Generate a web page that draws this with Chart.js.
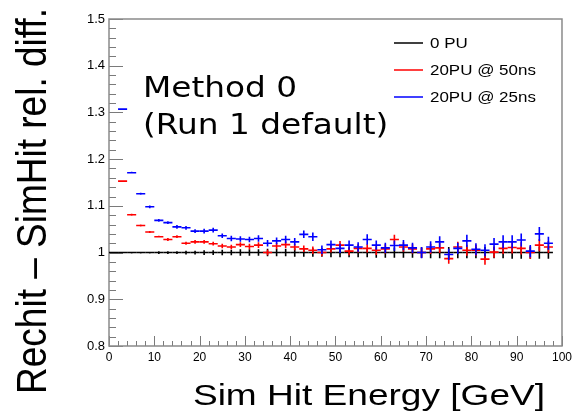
<!DOCTYPE html>
<html><head><meta charset="utf-8">
<script src="https://cdn.jsdelivr.net/npm/chart.js@4/dist/chart.umd.min.js"></script>
<style>html,body{margin:0;padding:0;background:#fff;}#wrap{width:576px;height:418px;}</style>
</head><body><div id="wrap"><canvas id="c" width="576" height="418"></canvas></div>
<script>
// ---------- data ----------
const binHalfWidth = 1;
const energies0 = [1,3,5,7,9,11,13,15,17,19,21,23,25,27,29,31,33,35,37,39,41,43,45,47,49,51,53,55,57,59,61,63,65,67,69,71,73,75,77,79,81,83,85,87,89,91,93,95,97];
const energiesPU = [3,5,7,9,11,13,15,17,19,21,23,25,27,29,31,33,35,37,39,41,43,45,47,49,51,53,55,57,59,61,63,65,67,69,71,73,75,77,79,81,83,85,87,89,91,93,95,97];
const values0PU = [1,1,1,1,1,1,1,1,1,1,1,1,1,1,1,1,1,1,1,1,1,1,1,1,1,1,1,1,1,1,1,1,1,1,1,1,1,1,1,1,1,1,1,1,1,1,1,1,1];
const errors0PU = [0.001,0.001,0.002,0.002,0.002,0.003,0.003,0.003,0.004,0.004,
  0.005,0.005,0.006,0.006,0.007,0.007,0.007,0.008,0.008,0.008,
  0.009,0.009,0.009,0.009,0.010,0.010,0.010,0.010,0.010,0.011,
  0.011,0.011,0.011,0.011,0.011,0.012,0.012,0.012,0.012,0.012,
  0.012,0.012,0.012,0.012,0.013,0.013,0.013,0.013,0.013];
const values50ns = [1.153,1.081,1.058,1.044,1.034,1.028,1.034,1.020,1.023,1.023,
  1.019,1.014,1.012,1.017,1.013,1.016,1.000,1.014,1.017,1.012,
  1.008,1.005,1.000,1.008,1.016,1.003,1.009,1.009,1.005,1.008,
  1.028,1.012,1.008,1.000,1.008,1.010,0.987,1.012,1.005,1.005,
  0.986,1.001,1.009,1.011,1.009,1.000,1.016,1.012];
const errors50ns = [0.001,0.002,0.002,0.002,0.002,0.003,0.003,0.003,0.004,0.004,
  0.004,0.005,0.005,0.005,0.006,0.006,0.006,0.007,0.007,0.007,
  0.007,0.008,0.008,0.008,0.009,0.009,0.009,0.009,0.010,0.010,
  0.010,0.010,0.010,0.011,0.011,0.011,0.011,0.011,0.012,0.012,
  0.012,0.012,0.012,0.013,0.013,0.013,0.013,0.013];
const values25ns = [1.307,1.171,1.126,1.098,1.069,1.064,1.055,1.053,1.046,1.046,
  1.048,1.036,1.030,1.029,1.028,1.030,1.020,1.025,1.028,1.023,
  1.039,1.034,1.006,1.017,1.009,1.016,1.012,1.028,1.016,1.010,
  1.015,1.016,1.010,1.000,1.012,1.023,0.996,1.009,1.025,1.007,
  1.005,1.018,1.023,1.023,1.027,1.003,1.040,1.020];
const errors25ns = [0.002,0.002,0.002,0.003,0.003,0.003,0.004,0.004,0.004,0.005,
  0.005,0.005,0.006,0.006,0.006,0.007,0.007,0.007,0.008,0.008,
  0.008,0.009,0.009,0.009,0.010,0.010,0.010,0.011,0.010,0.011,
  0.011,0.011,0.011,0.012,0.012,0.012,0.012,0.012,0.013,0.013,
  0.013,0.013,0.014,0.014,0.014,0.013,0.015,0.014];
const seriesLabels = ['0 PU','20PU @ 50ns','20PU @ 25ns'];
const xTicks = [0,10,20,30,40,50,60,70,80,90,100];
const yTicks = [0.8,0.9,1.0,1.1,1.2,1.3,1.4,1.5];
const xTitle = 'Sim Hit Energy [GeV]';
const yTitle = 'Rechit \u2013 SimHit rel. diff.';
const noteLines = ['Method 0','(Run 1 default)'];

// ---------- rendering ----------
const STRETCH = 1.17;
const toPts = (xs, ys) => xs.map((x, i) => ({x: x, y: ys[i]}));

const errorBars = {
  id: 'errorBars',
  afterDatasetsDraw(chart) {
    const {ctx, chartArea: a, scales: {x, y}} = chart;
    ctx.save();
    ctx.beginPath(); ctx.rect(a.left, a.top, a.right - a.left, a.bottom - a.top); ctx.clip();
    chart.data.datasets.forEach(ds => {
      ctx.strokeStyle = ds.borderColor; ctx.lineWidth = ds.borderWidth;
      ds.data.forEach((p, i) => {
        const px = x.getPixelForValue(p.x), py = y.getPixelForValue(p.y);
        const e = ds.errors[i];
        ctx.beginPath();
        ctx.moveTo(x.getPixelForValue(p.x - binHalfWidth), py);
        ctx.lineTo(x.getPixelForValue(p.x + binHalfWidth), py);
        ctx.moveTo(px, y.getPixelForValue(p.y + e));
        ctx.lineTo(px, y.getPixelForValue(p.y - e));
        ctx.stroke();
      });
    });
    ctx.restore();
  }
};

function stretchedText(ctx, txt, x, y, align, sx) {
  ctx.save();
  ctx.translate(x, y); ctx.scale(sx || STRETCH, 1);
  ctx.textAlign = align; ctx.fillText(txt, 0, 0);
  ctx.restore();
}

const decor = {
  id: 'decor',
  beforeDatasetsDraw(chart) {
    const {ctx, chartArea: a, scales: {x, y}} = chart;
    ctx.save();
    ctx.strokeStyle = '#7a7a7a'; ctx.lineWidth = 1;
    for (let v = 0.8; v <= 1.5001; v += 0.02) {
      const major = Math.abs(v * 10 - Math.round(v * 10)) < 1e-6;
      const py = Math.round(y.getPixelForValue(v)) + 0.5;
      ctx.beginPath(); ctx.moveTo(a.left, py); ctx.lineTo(a.left + (major ? 14 : 7), py); ctx.stroke();
    }
    for (let v = 0; v <= 100.001; v += 2) {
      const major = v % 10 === 0;
      const px = Math.round(x.getPixelForValue(v)) + 0.5;
      ctx.beginPath(); ctx.moveTo(px, a.bottom); ctx.lineTo(px, a.bottom - (major ? 10 : 5)); ctx.stroke();
    }
    ctx.strokeStyle = '#8a8a8a'; ctx.lineWidth = 1.5;
    ctx.strokeRect(a.left, a.top, a.right - a.left, a.bottom - a.top);
    ctx.restore();
  },
  afterDraw(chart) {
    const {ctx} = chart;
    ctx.save();
    ctx.fillStyle = '#000'; ctx.textBaseline = 'alphabetic';
    ctx.font = '30px "Liberation Sans", Arial, sans-serif';
    stretchedText(ctx, xTitle, 545, 405, 'right', 1.235);
    ctx.save();
    ctx.translate(46, 201); ctx.rotate(-Math.PI / 2); ctx.scale(1, STRETCH);
    ctx.font = '37px "Liberation Sans", Arial, sans-serif';
    ctx.textAlign = 'center'; ctx.fillText(yTitle, 0, 0);
    ctx.restore();
    ctx.font = '28px "DejaVu Sans", sans-serif';
    stretchedText(ctx, noteLines[0], 143, 97, 'left');
    stretchedText(ctx, noteLines[1], 143, 134, 'left');
    ctx.font = '14.5px "Liberation Sans", Arial, sans-serif';
    ctx.textBaseline = 'middle';
    const rows = [43, 70, 97];
    chart.data.datasets.forEach((ds, i) => {
      ctx.strokeStyle = ds.borderColor; ctx.lineWidth = 1.5;
      ctx.beginPath(); ctx.moveTo(394, rows[i]); ctx.lineTo(423, rows[i]); ctx.stroke();
      ctx.fillStyle = '#000';
      stretchedText(ctx, ds.label, 430, rows[i] + 1, 'left');
    });
    ctx.restore();
  }
};

new Chart(document.getElementById('c'), {
  type: 'scatter',
  data: {
    datasets: [
      {label: seriesLabels[0], data: toPts(energies0, values0PU), errors: errors0PU, borderColor: '#000000', backgroundColor: '#000000', borderWidth: 1.6},
      {label: seriesLabels[1], data: toPts(energiesPU, values50ns), errors: errors50ns, borderColor: '#ff0000', backgroundColor: '#ff0000', borderWidth: 1.6},
      {label: seriesLabels[2], data: toPts(energiesPU, values25ns), errors: errors25ns, borderColor: '#0000ff', backgroundColor: '#0000ff', borderWidth: 1.6}
    ]
  },
  options: {
    responsive: false, animation: false, devicePixelRatio: 1,
    layout: {padding: {left: 0, right: 11, top: 19, bottom: 0}},
    elements: {point: {radius: 0, hoverRadius: 0}},
    plugins: {legend: {display: false}, tooltip: {enabled: false}},
    scales: {
      x: {
        type: 'linear', min: 0, max: 100,
        afterBuildTicks: s => { s.ticks = xTicks.map(v => ({value: v})); },
        ticks: {font: {family: 'Liberation Sans', size: 12}, color: '#000', padding: 4, maxRotation: 0, autoSkip: false, callback: v => String(v)},
        grid: {display: false, drawTicks: false}, border: {display: false},
        afterFit: s => { s.height = 72; }
      },
      y: {
        type: 'linear', min: 0.8, max: 1.5,
        afterBuildTicks: s => { s.ticks = yTicks.map(v => ({value: v})); },
        ticks: {font: {family: 'Liberation Sans', size: 13}, color: '#000', padding: 4, autoSkip: false, callback: v => String(+v.toFixed(2))},
        grid: {display: false, drawTicks: false}, border: {display: false},
        afterFit: s => { s.width = 109; }
      }
    }
  },
  plugins: [decor, errorBars]
});
</script>
</body></html>
